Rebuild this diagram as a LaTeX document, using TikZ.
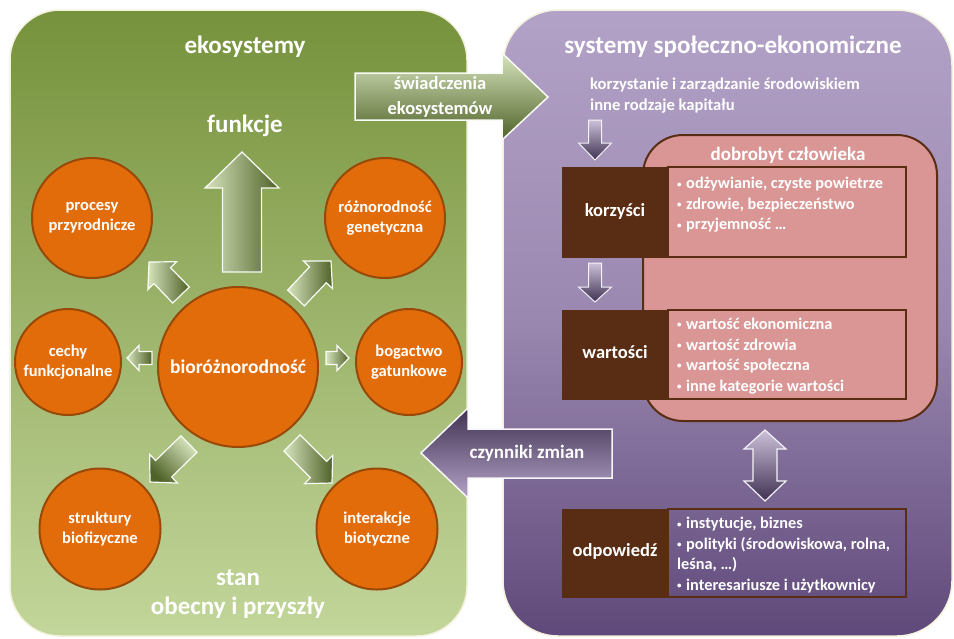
\documentclass[tikz,border=0pt]{standalone}
\usepackage{fontspec}
\usepackage{graphicx}
\setmainfont{Carlito}
\usetikzlibrary{calc}
\definecolor{gtop}{HTML}{76923C}
\definecolor{gbot}{HTML}{C3D69B}
\definecolor{ptop}{HTML}{B3A2C7}
\definecolor{pbot}{HTML}{5F497A}
\definecolor{orng}{HTML}{E36C0A}
\definecolor{orbd}{HTML}{984807}
\definecolor{brwn}{HTML}{582D14}
\definecolor{wbpink}{HTML}{D99694}
\definecolor{arlt}{HTML}{D7E4BD}
\definecolor{ardk}{HTML}{4F6228}
\definecolor{pdark}{HTML}{3F3151}
\definecolor{plite}{HTML}{CCC0DA}
\definecolor{rim}{HTML}{F4F1DE}
\newcommand\bl{\raisebox{0.1em}{\scalebox{0.55}{•}}\hspace{0.28em}}
\newcommand\barr[7]{%
  \coordinate (#1a) at #2; \coordinate (#1b) at #3;
  \coordinate (#1h) at ($(#1b)!#6!(#1a)$);
  \path[#7] ($(#1a)!#4!90:(#1b)$) -- ($(#1h)!#4!90:(#1b)$) -- ($(#1h)!#5!90:(#1b)$)
    -- (#1b) -- ($(#1h)!#5!-90:(#1b)$) -- ($(#1h)!#4!-90:(#1b)$) -- ($(#1a)!#4!-90:(#1b)$) -- cycle;}
\tikzset{
  circ/.style={circle, draw=orbd, line width=2pt, fill=orng, text=white, align=center,
    inner sep=0pt, font=\bfseries\fontsize{16.5}{20}\selectfont},
  bigtitle/.style={text=white, align=center, font=\bfseries\fontsize{25}{29}\selectfont},
  garrow/.style={draw=white!90!gbot, line width=1.2pt, left color=arlt, right color=ardk},
  parrow/.style={draw=white!85!ptop, line width=1pt, top color=plite, bottom color=pdark},
  brbox/.style={fill=brwn, draw=brwn, line width=1pt},
  itbox/.style={draw=brwn, line width=2pt},
  lbl/.style={text=white, font=\bfseries\fontsize{18.5}{22}\selectfont},
  items/.style={text=white, anchor=west, align=left, inner sep=0pt,
    font=\bfseries\fontsize{16.3}{20.5}\selectfont},
}
\begin{document}
\begin{tikzpicture}[x=1pt,y=-1pt]
\useasboundingbox (0,0) rectangle (954,638);
\fill[white] (0,0) rectangle (954,638);
% outer panels
\path[draw=rim, line width=1.5pt, top color=gtop, bottom color=gbot, rounded corners=50pt]
  (10,10) rectangle (467,636);
\path[draw=rim, line width=1.5pt, top color=ptop, bottom color=pbot, middle color=ptop!70!pbot, rounded corners=55pt]
  (503,10) rectangle (952,636);
\node[bigtitle] (eko) at (245,47) {ekosystemy};
\node[bigtitle] (fun) at (245,126) {funkcje};
\node[bigtitle] (stan) at (238,578) {stan};
\node[bigtitle] (obec) at (238,608) {obecny i przyszły};
\node[bigtitle] (sys) at (733,47) {systemy społeczno-ekonomiczne};
% big up arrow
\barr{up}{(242,272)}{(242,152)}{19.5pt}{37pt}{36pt}{garrow}
% small arrows
\barr{ul}{(181,295)}{(149,262)}{11.5pt}{20pt}{19pt}{garrow}
\barr{ur}{(296,298)}{(331,261)}{11.5pt}{20pt}{19pt}{garrow}
\barr{le}{(152,358)}{(127,358)}{6.5pt}{12.5pt}{12pt}{garrow}
\barr{ri}{(326,358)}{(349,358)}{6.5pt}{12.5pt}{12pt}{garrow}
\barr{ll}{(189,444)}{(150,482)}{11.5pt}{20pt}{19pt}{draw=white!90!gbot, line width=1.2pt, top color=arlt, bottom color=ardk, shading angle=-45}
\barr{lr}{(292,443)}{(332,483)}{11.5pt}{20pt}{19pt}{garrow}
% circles
\node[circ, minimum size=120pt] (proc) at (92,218) {procesy\\przyrodnicze};
\node[circ, minimum size=120pt] (gen) at (385,218) {różnorodność\\genetyczna};
\node[circ, minimum size=160pt, font=\bfseries\fontsize{19.5}{23}\selectfont] (bio) at (238,367) {bioróżnorodność};
\node[circ, minimum size=106pt] (cech) at (68,362) {cechy\\funkcjonalne};
\node[circ, minimum size=106pt] (bog) at (409,362) {bogactwo\\gatunkowe};
\node[circ, minimum size=121pt] (str) at (100,529) {struktury\\biofizyczne};
\node[circ, minimum size=121pt] (int) at (377,529) {interakcje\\biotyczne};
% swiadczenia arrow
\path[draw=white!90!gbot, line width=1.5pt, top color=arlt, bottom color=ardk]
  (355,73) -- (502,73) -- (502,53) -- (548,97) -- (502,140) -- (502,120) -- (355,120) -- cycle;
\node[lbl, align=center, font=\bfseries\fontsize{18.5}{25}\selectfont] (swi) at (440,97) {świadczenia\\ekosystemów};
% czynniki arrow
\path[draw=white!90!ptop, line width=1.5pt, top color=pdark, bottom color=ptop]
  (612,429) -- (468,429) -- (468,408) -- (421,453) -- (468,498) -- (468,478) -- (612,478) -- cycle;
\node[lbl, font=\bfseries\fontsize{19}{22}\selectfont] (czy) at (527,453) {czynniki zmian};
% right panel text
\node[items, anchor=north west, font=\bfseries\fontsize{16.6}{20.5}\selectfont] (korz) at (590,78) {korzystanie i zarządzanie środowiskiem\\inne rodzaje kapitału};
% dobrobyt
\path[fill=wbpink, draw=brwn, line width=2pt, rounded corners=40pt] (643,135) rectangle (937,421);
\node[lbl, font=\bfseries\fontsize{19}{22}\selectfont] (dob) at (788,155) {dobrobyt człowieka};
% down arrows
\barr{d1}{(595,120)}{(595,160)}{6.5pt}{16.5pt}{17pt}{parrow}
\barr{d2}{(595,263)}{(595,302)}{6.5pt}{16.5pt}{15pt}{parrow}
% boxes
\path[brbox] (562,167) rectangle (668,257);
\path[itbox, fill=wbpink] (668,167) rectangle (906,257);
\node[lbl] (kor) at (615,211) {korzyści};
\node[items] (kori) at (677,205) {\bl odżywianie, czyste powietrze\\\bl zdrowie, bezpieczeństwo\\\bl przyjemność …};
\path[brbox] (562,310) rectangle (668,399);
\path[itbox, fill=wbpink] (668,310) rectangle (906,399);
\node[lbl] (war) at (615,352) {wartości};
\node[items] (wari) at (677,356) {\bl wartość ekonomiczna\\\bl wartość zdrowia\\\bl wartość społeczna\\\bl inne kategorie wartości};
% double arrow
\path[parrow, line width=1.2pt] (765,430) -- (786,449) -- (777,449) -- (777,481) -- (786,481) -- (765,501)
  -- (744,481) -- (753,481) -- (753,449) -- (744,449) -- cycle;
\path[brbox] (562,509) rectangle (668,597);
\path[itbox] (668,509) rectangle (906,597);
\node[lbl] (odp) at (615,551) {odpowiedź};
\node[items] (odpi) at (677,555) {\bl instytucje, biznes\\\bl polityki (środowiskowa, rolna,\\leśna, …)\\\bl interesariusze i użytkownicy};
\end{tikzpicture}
\end{document}
